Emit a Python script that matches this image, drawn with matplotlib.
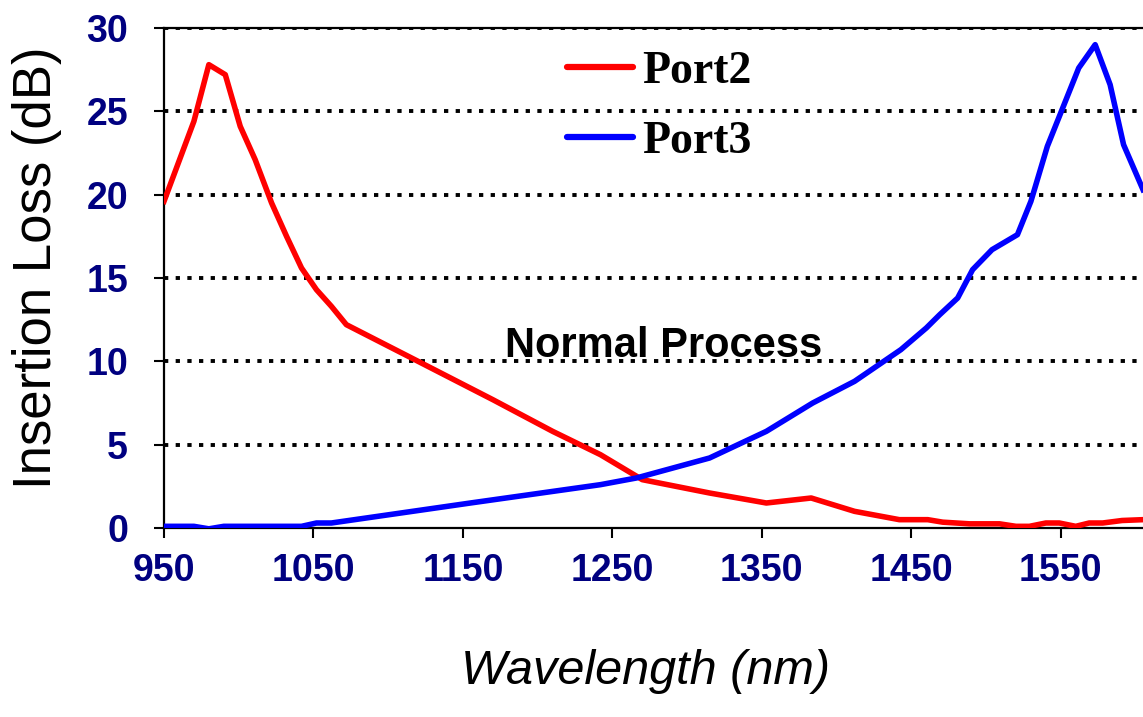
import matplotlib
matplotlib.use("Agg")
import matplotlib.pyplot as plt

# Port2 (red)
port2_wl = [950, 970, 980, 991, 1001, 1011, 1022, 1032, 1042, 1052, 1062, 1072,
            1120, 1170, 1210, 1242, 1270, 1315, 1353, 1383, 1412, 1442, 1461,
            1471, 1489, 1509, 1520, 1529, 1540, 1549, 1560, 1569, 1578, 1591, 1605]
port2_il = [19.6, 24.4, 27.8, 27.2, 24.1, 22.1, 19.5, 17.5, 15.6, 14.3, 13.3, 12.2,
            10.0, 7.7, 5.8, 4.4, 2.9, 2.1, 1.5, 1.8, 1.0, 0.5, 0.5,
            0.35, 0.25, 0.25, 0.1, 0.1, 0.3, 0.3, 0.1, 0.3, 0.3, 0.45, 0.5]

# Port3 (blue)
port3_wl = [950, 970, 980, 990, 1000, 1020, 1042, 1052, 1062, 1155, 1242, 1266,
            1315, 1353, 1384, 1412, 1443, 1460, 1469, 1481, 1491, 1504, 1521,
            1530, 1541, 1562, 1573, 1583, 1592, 1605]
port3_il = [0.1, 0.1, -0.05, 0.1, 0.1, 0.1, 0.1, 0.3, 0.3, 1.5, 2.6, 3.0,
            4.2, 5.8, 7.5, 8.8, 10.7, 12.0, 12.8, 13.8, 15.5, 16.7, 17.6,
            19.6, 22.9, 27.6, 29.0, 26.6, 23.0, 20.3]

x_ticks = [950, 1050, 1150, 1250, 1350, 1450, 1550]
y_ticks = [0, 5, 10, 15, 20, 25, 30]

W, H = 1143, 717
fig = plt.figure(figsize=(W / 100, H / 100), dpi=100)
ax = fig.add_axes([164 / W, 1 - 528 / H, 1 - 164 / W, (528 - 28) / H])

navy = "#000080"
for y in y_ticks[1:]:
    ax.axhline(y, color="black", lw=2.8, linestyle=(0, (1.1, 1.9)), zorder=1)

ax.plot(port2_wl, port2_il, color="#ff0000", lw=4, label="Port2", zorder=3,
        solid_joinstyle="round")
ax.plot(port3_wl, port3_il, color="#0000ff", lw=4, label="Port3", zorder=3,
        solid_joinstyle="round")

ax.set_xlim(950, 1605)
ax.set_ylim(0, 30)
ax.set_xticks(x_ticks)
ax.set_yticks(y_ticks)
ax.set_xticklabels([str(v) for v in x_ticks], fontsize=27, fontweight="bold",
                   color=navy, family="Liberation Sans")
ax.set_yticklabels([str(v) for v in y_ticks], fontsize=27, fontweight="bold",
                   color=navy, family="Liberation Sans")
ax.tick_params(axis="both", direction="out", length=7, width=1.5, color="black")
ax.tick_params(axis="y", pad=19)
ax.tick_params(axis="x", pad=11)

ax.spines["right"].set_visible(False)
for s in ["left", "bottom", "top"]:
    ax.spines[s].set_linewidth(1.6)
    ax.spines[s].set_color("black")

ax.set_ylabel("Insertion Loss (dB)", fontsize=38, family="Liberation Sans",
              va="center")
ax.yaxis.set_label_coords((37 - 164) / (W - 164), 0.52)
fig.text((468 + 823) / 2 / W, 1 - 672 / H, "Wavelength (nm)", fontsize=35,
         style="italic", family="Liberation Sans", ha="center", va="center")

ax.text(1178, 10.25, "Normal Process", fontsize=30, fontweight="bold",
        family="Liberation Sans", ha="left", va="baseline")

leg = ax.legend(loc="center left", bbox_to_anchor=(567 / W, 1 - 107 / H),
                bbox_transform=fig.transFigure, frameon=False,
                prop={"family": "Liberation Serif", "weight": "bold", "size": 33},
                handlelength=1.45, handletextpad=0.2, labelspacing=0.6,
                borderpad=0, borderaxespad=0)
for line in leg.get_lines():
    line.set_linewidth(4.5)
    line.set_solid_capstyle("round")

fig.savefig("out.png", dpi=100)
